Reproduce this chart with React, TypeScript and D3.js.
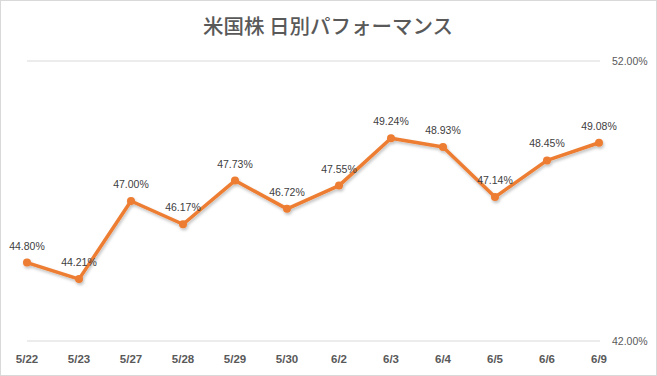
import React from "react";
import * as d3 from "d3";

const categories = ["5/22", "5/23", "5/27", "5/28", "5/29", "5/30", "6/2", "6/3", "6/4", "6/5", "6/6", "6/9"];
const values = [44.8, 44.21, 47.0, 46.17, 47.73, 46.72, 47.55, 49.24, 48.93, 47.14, 48.45, 49.08];
const yTicks = [42, 52];
const title = "米国株 日別パフォーマンス";

const W = 657;
const H = 376;

export default function App() {
  const x = d3.scalePoint<string>().domain(categories).range([27, 599]);
  const y = d3.scaleLinear().domain([42, 52]).range([341, 61]);
  const line = d3
    .line<number>()
    .x((_, i) => x(categories[i]) as number)
    .y((d) => y(d));
  const color = "#ED7D31";
  return (
    <svg width={W} height={H} style={{ position: "absolute", left: 0, top: 0 }}>
      <defs>
        <filter id="sh" x="-10%" y="-10%" width="120%" height="130%">
          <feDropShadow dx="1" dy="2" stdDeviation="1.5" floodColor="#000" floodOpacity="0.25" />
        </filter>
      </defs>
      <rect x={0.5} y={0.5} width={W - 1} height={H - 1} fill="#fff" stroke="#d9d9d9" />
      <text x={328} y={27} dy="0.35em" textAnchor="middle" fontFamily="'Noto Sans CJK JP'" fontWeight={500} fontSize={20.5} fill="#595959">
        {title}
      </text>
      {yTicks.map((t) => (
        <g key={t}>
          <line x1={27} x2={600} y1={y(t)} y2={y(t)} stroke="#d9d9d9" strokeWidth={1} />
          <text x={612} y={y(t)} dy="0.35em" fontFamily="'Liberation Sans', Arial" fontSize={10.5} fill="#595959">
            {t.toFixed(2) + "%"}
          </text>
        </g>
      ))}
      {categories.map((c) => (
        <text key={c} x={x(c) as number} y={359} dy="0.35em" textAnchor="middle" fontFamily="'Liberation Sans', Arial" fontWeight="bold" fontSize={11.5} fill="#595959">
          {c}
        </text>
      ))}
      <g filter="url(#sh)">
        <path d={line(values) || ""} fill="none" stroke={color} strokeWidth={3.5} strokeLinejoin="round" />
        {values.map((v, i) => (
          <circle key={i} cx={x(categories[i]) as number} cy={y(v)} r={4} fill={color} />
        ))}
      </g>
      {values.map((v, i) => (
        <text key={i} x={x(categories[i]) as number} y={y(v) - 13} textAnchor="middle" fontFamily="'Liberation Sans', Arial" fontSize={10.5} fill="#404040">
          {v.toFixed(2) + "%"}
        </text>
      ))}
    </svg>
  );
}
